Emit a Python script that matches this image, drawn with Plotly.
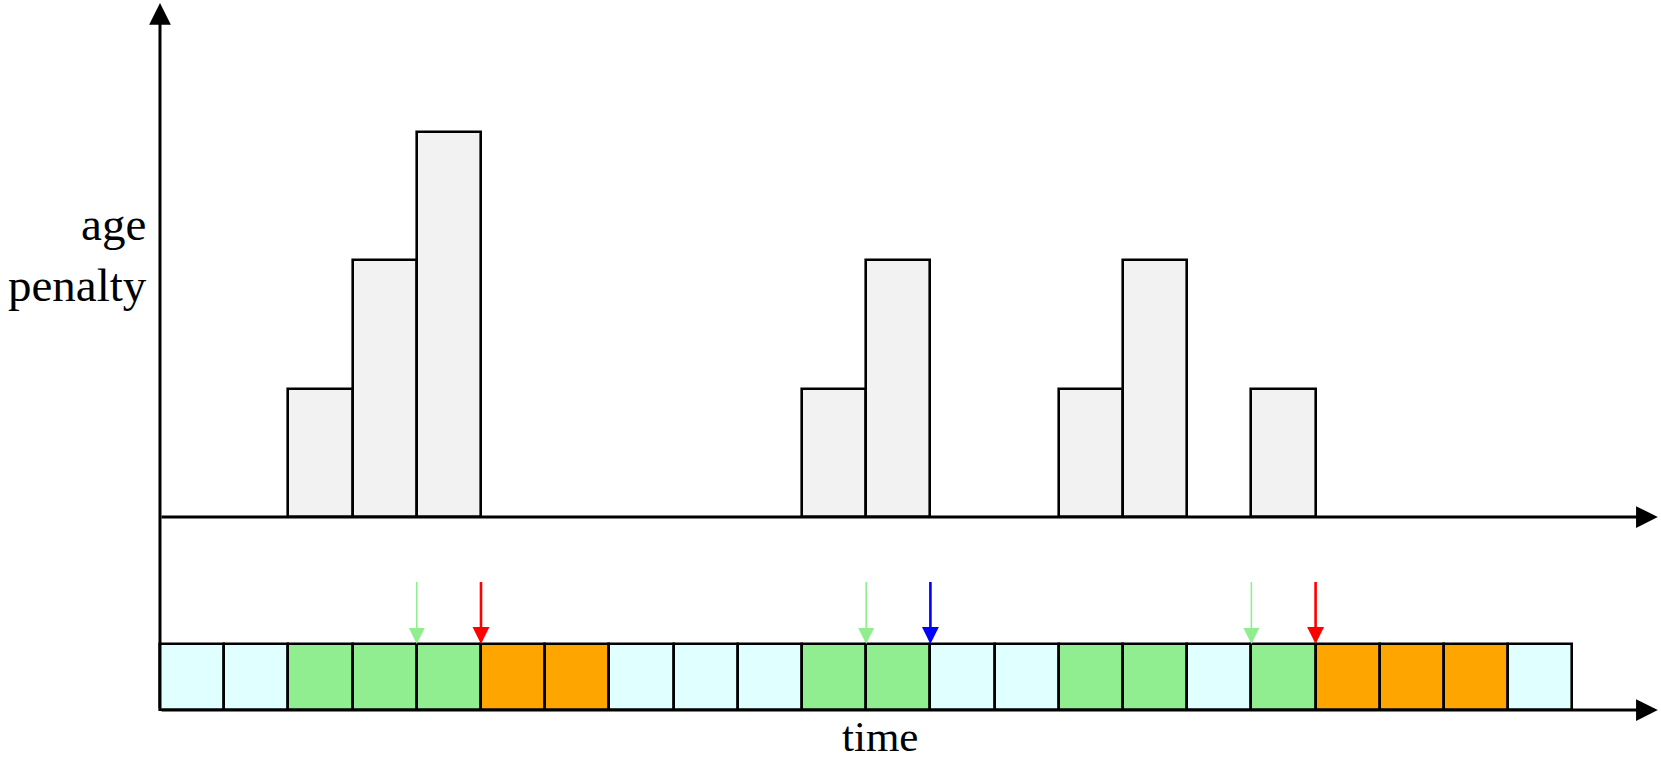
import plotly.graph_objects as go

# ---- data ----
cell_states = ["idle", "idle", "active", "active", "active", "penalty", "penalty",
               "idle", "idle", "idle", "active", "active", "idle", "idle",
               "active", "active", "idle", "active", "penalty", "penalty", "penalty", "idle"]
bar_slots = [2, 3, 4, 10, 11, 14, 15, 17]
bar_heights = [1, 2, 3, 1, 2, 1, 2, 1]
arrow_positions = [4, 5, 11, 12, 17, 18]
arrow_kinds = ["start", "stop", "start", "preempt", "start", "stop"]
y_label = "age<br>penalty"
x_label = "time"

# ---- styles ----
state_colors = {"idle": "#E0FFFF", "active": "#90EE90", "penalty": "#FFA500"}
arrow_styles = {"start": ("#90EE90", 1.6, 2.0), "stop": ("#FF0000", 2.6, 1.3),
                "preempt": ("#0000FF", 2.6, 1.3)}
CELL_BOTTOM = -1.502
CELL_TOP = -0.988
ARROW_TAIL = -0.494
X_RANGE = [-2.492, 23.380]
Y_RANGE = [-1.9066, 4.0233]
X_END = 23.33
Y_END = 4.0

fig = go.Figure()

# cells on the time strip
fig.add_trace(go.Bar(
    x=list(range(len(cell_states))),
    y=[CELL_TOP - CELL_BOTTOM] * len(cell_states),
    base=[CELL_BOTTOM] * len(cell_states),
    width=1, offset=0,
    marker=dict(color=[state_colors[s] for s in cell_states],
                line=dict(color="black", width=2.6)),
    hoverinfo="skip", showlegend=False,
))

# age penalty bars
fig.add_trace(go.Bar(
    x=bar_slots, y=bar_heights, base=[0] * len(bar_slots),
    width=1, offset=0,
    marker=dict(color="#F2F2F2", line=dict(color="black", width=2.6)),
    hoverinfo="skip", showlegend=False,
))

annotations = []
# event arrows
for pos, kind in zip(arrow_positions, arrow_kinds):
    col, w, sz = arrow_styles[kind]
    annotations.append(dict(
        x=pos, y=CELL_TOP, ax=pos, ay=ARROW_TAIL, xref="x", yref="y",
        axref="x", ayref="y", text="", showarrow=True,
        arrowhead=2, arrowsize=sz, arrowwidth=w, arrowcolor=col, standoff=0,
    ))

# axes arrows
for (x0, y0, x1, y1) in [(0, CELL_BOTTOM, 0, Y_END), (0, 0, X_END, 0),
                         (0, CELL_BOTTOM, X_END, CELL_BOTTOM)]:
    annotations.append(dict(
        x=x1, y=y1, ax=x0, ay=y0, xref="x", yref="y", axref="x", ayref="y",
        text="", showarrow=True, arrowhead=2, arrowsize=1.45, arrowwidth=3,
        arrowcolor="black", standoff=0,
    ))

annotations.append(dict(
    x=-0.17, y=2.04, xref="x", yref="y", text=y_label, showarrow=False,
    xanchor="right", yanchor="middle", align="right",
    font=dict(family="Liberation Serif", size=47, color="black"),
))
annotations.append(dict(
    x=11.21, y=-1.708, xref="x", yref="y", text=x_label, showarrow=False,
    xanchor="center", yanchor="middle", borderpad=0,
    font=dict(family="Liberation Serif", size=43, color="black"),
))

fig.update_layout(
    width=1661, height=762,
    margin=dict(l=0, r=0, t=0, b=0),
    paper_bgcolor="white", plot_bgcolor="white",
    barmode="overlay", bargap=0,
    xaxis=dict(range=X_RANGE, visible=False, fixedrange=True),
    yaxis=dict(range=Y_RANGE, visible=False, fixedrange=True),
    annotations=annotations,
    showlegend=False,
)

fig.write_html("out.html", config={"displayModeBar": False},
               post_script="document.body.style.margin='0';document.body.style.overflow='hidden';")
